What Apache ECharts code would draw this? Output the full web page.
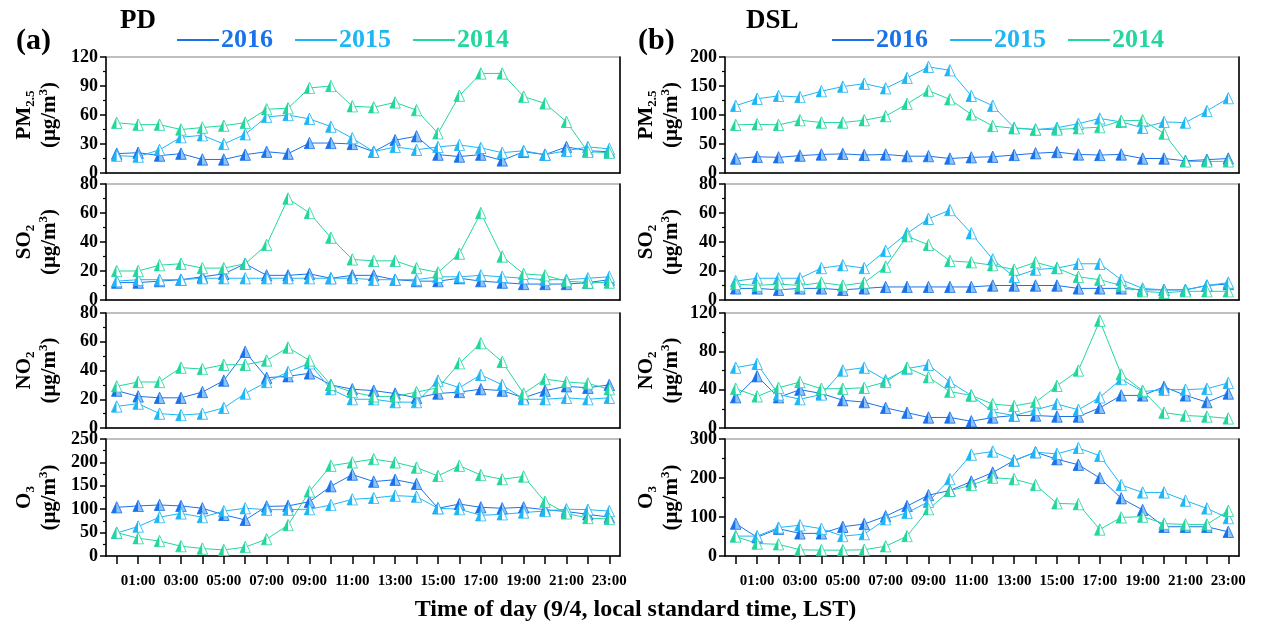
<!DOCTYPE html>
<html>
<head>
<meta charset="utf-8">
<script src="https://cdn.jsdelivr.net/npm/echarts@6/dist/echarts.min.js"></script>
<style>
  html, body { margin: 0; padding: 0; background: #fff; }
  #chart { width: 1271px; height: 632px; }
</style>
</head>
<body>
<div id="chart"></div>
<script>
// hour of day categories (9/4, LST)
const HOURS = ['00:00','01:00','02:00','03:00','04:00','05:00','06:00','07:00','08:00','09:00','10:00','11:00',
  '12:00','13:00','14:00','15:00','16:00','17:00','18:00','19:00','20:00','21:00','22:00','23:00'];
const YEARS = ['2016', '2015', '2014'];

// (a) PD
const PD_PM25_2016 = [20,21,18,20,14,14,19,22,20,31,31,30,22,34,38,19,17,19,13,22,19,27,23,22];
const PD_PM25_2015 = [18,17,24,37,39,30,40,58,60,56,48,36,22,27,24,27,29,26,21,23,19,23,27,25];
const PD_PM25_2014 = [52,50,50,45,47,49,52,66,67,88,90,69,68,73,65,41,80,103,103,79,72,53,22,21];

const PD_SO2_2016 = [12,12,13,14,16,18,25,17,17,18,15,17,17,14,13,13,15,13,12,11,11,11,12,14];
const PD_SO2_2015 = [13,14,14,14,15,15,15,15,15,15,15,15,14,14,14,16,16,17,16,15,14,14,15,16];
const PD_SO2_2014 = [20,20,24,25,22,22,25,38,70,60,43,28,27,27,22,19,32,60,30,18,17,13,12,12];

const PD_NO2_2016 = [26,22,21,21,25,33,53,35,36,38,30,27,26,24,21,24,25,27,26,21,26,29,28,30];
const PD_NO2_2015 = [15,17,10,9,10,14,24,32,39,45,27,20,20,18,18,33,28,37,30,20,20,21,20,21];
const PD_NO2_2014 = [29,32,32,42,41,44,44,47,56,47,30,25,22,22,25,28,45,59,46,24,34,32,31,27];

const PD_O3_2016 = [104,107,109,107,102,88,77,106,107,116,149,174,159,163,154,102,111,104,102,104,99,95,89,83];
const PD_O3_2015 = [49,63,83,91,83,96,102,99,99,100,109,121,124,129,127,102,100,87,89,93,96,100,99,96];
const PD_O3_2014 = [50,38,32,21,16,13,19,36,66,138,193,200,207,200,189,171,193,173,164,170,116,91,81,79];

// (b) DSL
const DSL_PM25_2016 = [25,28,27,30,32,33,31,32,29,29,25,27,28,31,34,36,32,31,32,25,25,21,23,25];
const DSL_PM25_2015 = [116,128,133,131,141,149,154,146,164,183,177,133,116,78,75,78,85,94,88,78,88,87,107,129];
const DSL_PM25_2014 = [83,84,83,91,87,87,91,98,119,142,127,101,81,77,75,75,77,79,90,91,68,20,20,20];

const DSL_SO2_2016 = [8,8,7,8,8,7,8,9,9,9,9,9,10,10,10,10,8,8,8,7,7,7,10,11];
const DSL_SO2_2015 = [13,15,15,15,22,24,22,34,46,56,62,46,28,16,21,22,25,25,14,8,7,7,10,12];
const DSL_SO2_2014 = [11,10,11,10,12,10,12,23,44,38,27,26,24,21,26,22,16,14,10,6,5,6,6,6];

const DSL_NO2_2016 = [32,54,32,40,36,29,27,21,16,11,11,7,11,13,13,12,12,21,34,34,43,34,27,36];
const DSL_NO2_2015 = [63,67,35,30,35,60,63,50,62,66,48,34,17,13,19,25,19,32,51,38,40,40,41,47];
const DSL_NO2_2014 = [41,33,42,48,41,41,42,48,63,53,38,34,25,23,27,44,60,112,56,39,16,13,12,10];

const DSL_O3_2016 = [83,48,70,58,58,75,82,102,128,156,168,191,214,245,266,248,234,200,148,118,75,75,75,62];
const DSL_O3_2015 = [51,51,73,79,70,51,56,94,111,139,197,260,268,245,266,262,277,257,182,163,163,142,122,97];
const DSL_O3_2014 = [50,32,30,16,15,15,16,25,51,120,167,182,201,197,182,135,133,68,99,101,83,81,81,116];

const FONT = "'Liberation Serif', 'Times New Roman', serif";
const COLORS = ['#1a72ea', '#1fb6f4', '#22d69e'];
const RIGHT_FILL = ['#8fc4fa', '#ffffff', '#ffffff'];

// half-filled triangle marker, like the Origin plot
function triSymbol(main, half) {
  const svg = '<svg xmlns="http://www.w3.org/2000/svg" width="24" height="24" viewBox="0 0 24 24">' +
    '<polygon points="12,1.5 12,22.5 1.5,22.5" fill="' + main + '"/>' +
    '<polygon points="12,1.5 22.5,22.5 12,22.5" fill="' + half + '"/>' +
    '<polygon points="12,1.5 22.5,22.5 1.5,22.5" fill="none" stroke="' + main + '" stroke-width="1.6"/></svg>';
  return 'image://data:image/svg+xml;charset=utf-8,' + encodeURIComponent(svg);
}

// grid placement: two columns (PD, DSL), four rows (PM2.5, SO2, NO2, O3)
const COLS = [{ left: 106, width: 514, nameGap: 44 }, { left: 725, width: 514, nameGap: 41 }];
const ROWS = [{ top: 57, height: 116 }, { top: 184, height: 116 }, { top: 313, height: 115 }, { top: 439, height: 117 }];

const panels = [
  { col: 0, row: 0, sp: 'PM', sub: '2.5', max: 120, step: 30, data: [PD_PM25_2016, PD_PM25_2015, PD_PM25_2014] },
  { col: 0, row: 1, sp: 'SO', sub: '2', max: 80, step: 20, data: [PD_SO2_2016, PD_SO2_2015, PD_SO2_2014] },
  { col: 0, row: 2, sp: 'NO', sub: '2', max: 80, step: 20, data: [PD_NO2_2016, PD_NO2_2015, PD_NO2_2014] },
  { col: 0, row: 3, sp: 'O', sub: '3', max: 250, step: 50, data: [PD_O3_2016, PD_O3_2015, PD_O3_2014] },
  { col: 1, row: 0, sp: 'PM', sub: '2.5', max: 200, step: 50, data: [DSL_PM25_2016, DSL_PM25_2015, DSL_PM25_2014] },
  { col: 1, row: 1, sp: 'SO', sub: '2', max: 80, step: 20, data: [DSL_SO2_2016, DSL_SO2_2015, DSL_SO2_2014] },
  { col: 1, row: 2, sp: 'NO', sub: '2', max: 120, step: 40, data: [DSL_NO2_2016, DSL_NO2_2015, DSL_NO2_2014] },
  { col: 1, row: 3, sp: 'O', sub: '3', max: 300, step: 100, data: [DSL_O3_2016, DSL_O3_2015, DSL_O3_2014] },
];

const black = { color: '#000', width: 1.5 };
const nameRich = {
  a: { fontSize: 21, fontWeight: 'bold', fontFamily: FONT, color: '#000', lineHeight: 25 },
  s: { fontSize: 13, fontWeight: 'bold', fontFamily: FONT, color: '#000', lineHeight: 14, verticalAlign: 'bottom' },
  p: { fontSize: 13, fontWeight: 'bold', fontFamily: FONT, color: '#000', lineHeight: 14, verticalAlign: 'top' },
};

const grid = [], xAxis = [], yAxis = [], series = [];
panels.forEach((p, i) => {
  const c = COLS[p.col], r = ROWS[p.row];
  const bottomRow = p.row === 3;
  grid.push({ left: c.left, width: c.width, top: r.top, height: r.height, show: true, borderColor: '#aaa', borderWidth: 1.5 });
  xAxis.push({
    type: 'category', gridIndex: i, data: HOURS, boundaryGap: true,
    axisLine: { lineStyle: black },
    axisTick: { show: bottomRow, alignWithLabel: true, interval: 0, length: 8, lineStyle: black },
    axisLabel: {
      show: bottomRow, interval: (idx) => idx % 2 === 1, margin: 18,
      fontSize: 15, fontWeight: 'bold', fontFamily: FONT, color: '#000',
    },
    splitLine: { show: false },
  });
  yAxis.push({
    type: 'value', gridIndex: i, min: 0, max: p.max, interval: p.step,
    axisLine: { show: true, lineStyle: black },
    axisTick: { show: true, length: 6, lineStyle: black },
    minorTick: { show: true, splitNumber: 2, length: 3, lineStyle: { color: '#000', width: 1.2 } },
    axisLabel: { margin: 8, fontSize: 18, fontWeight: 'bold', fontFamily: FONT, color: '#000' },
    splitLine: { show: false },
    name: '{a|' + p.sp + '}{s|' + p.sub + '}\n{a|(μg/m}{p|3}{a|)}',
    nameLocation: 'middle', nameRotate: 90, nameGap: c.nameGap,
    nameTextStyle: { fontSize: 21, fontWeight: 'bold', fontFamily: FONT, color: '#000', lineHeight: 25, rich: nameRich },
  });
  p.data.forEach((vals, k) => {
    series.push({
      name: YEARS[k], type: 'line', xAxisIndex: i, yAxisIndex: i, data: vals,
      symbol: triSymbol(COLORS[k], RIGHT_FILL[k]), symbolSize: [12, 13],
      lineStyle: { color: COLORS[k], width: 1 },
      itemStyle: { color: COLORS[k] },
      emphasis: { disabled: true },
      animation: false,
    });
  });
});

// black right-hand frame line for each panel
panels.forEach((p, i) => {
  yAxis.push({
    type: 'value', gridIndex: i, position: 'right', min: 0, max: p.max,
    axisLine: { show: true, lineStyle: black },
    axisTick: { show: false }, axisLabel: { show: false }, splitLine: { show: false },
  });
});

const legend = [172, 827].map((left) => ({
  left, top: 22, icon: 'rect', itemWidth: 42, itemHeight: 2, itemGap: 22,
  selectedMode: false,
  textStyle: { fontSize: 26, fontWeight: 'bold', fontFamily: FONT, padding: [0, 0, 0, -3] },
  data: YEARS.map((y, k) => ({ name: y, textStyle: { color: COLORS[k] } })),
}));

const txt = (left, top, text, size, extra) => ({
  type: 'text', left, top, style: Object.assign({ text, fill: '#000', font: 'bold ' + size + 'px ' + FONT }, extra || {}),
});

const chart = echarts.init(document.getElementById('chart'), null, { renderer: 'canvas' });
chart.setOption({
  animation: false,
  grid, xAxis, yAxis, series, legend,
  graphic: [
    txt(16, 26, '(a)', 30),
    txt(120, 8, 'PD', 27),
    txt(638, 26, '(b)', 30),
    txt(746, 8, 'DSL', 27),
    txt('center', 598, 'Time of day (9/4, local standard time, LST)', 24),
  ],
});
</script>
</body>
</html>
